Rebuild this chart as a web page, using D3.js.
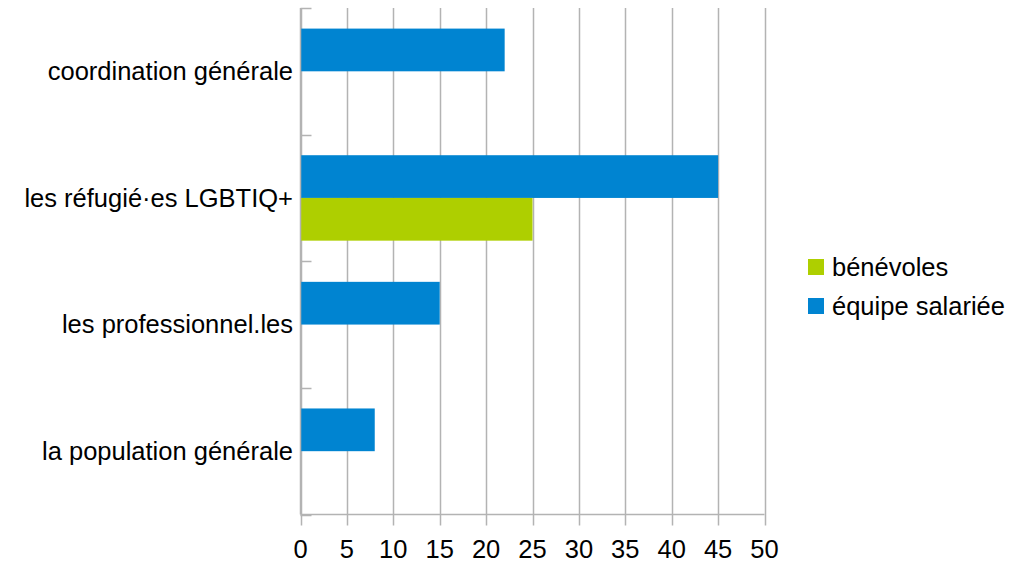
<!DOCTYPE html>
<html><head><meta charset="utf-8">
<script src="https://cdn.jsdelivr.net/npm/d3@7"></script>
<style>html,body{margin:0;padding:0;background:#fff;}svg{display:block;font-family:"Liberation Sans",Arial,sans-serif;}</style>
</head><body>
<svg id="c" width="1020" height="562"></svg>
<script>
const categories = ["coordination générale","les réfugié·es LGBTIQ+","les professionnel.les","la population générale"];
const equipeSalariee = [22,45,15,8];
const benevoles = [0,25,0,0];
const seriesNames = ["équipe salariée","bénévoles"];
const legendOrder = ["bénévoles","équipe salariée"];
const xTicks = [0,5,10,15,20,25,30,35,40,45,50];
const colors = {"équipe salariée":"#0084d1","bénévoles":"#aecf00"};

const svg = d3.select("#c");
const FS = 25.5;
const L = 300.5, R = 764.5, T = 8, B = 514.5;
const x = d3.scaleLinear().domain([0,50]).range([L,R]);
const y = d3.scaleBand().domain(categories).range([T,B]).padding(0);
const yi = d3.scaleBand().domain(seriesNames).range([0,y.bandwidth()]).paddingInner(0).paddingOuter(0.482);
const grid = "#b3b3b3";

// vertical gridlines + outward ticks
svg.append("g").selectAll("line").data(xTicks).join("line")
  .attr("x1",d=>Math.round(x(d))+0.5).attr("x2",d=>Math.round(x(d))+0.5)
  .attr("y1",T).attr("y2",B+11).attr("stroke",grid).attr("stroke-width",1.5);

// bars
const rows = categories.map((c,i)=>({cat:c, vals:[{s:"équipe salariée",v:equipeSalariee[i]},{s:"bénévoles",v:benevoles[i]}]}));
const g = svg.append("g");
rows.forEach(r=>{
  g.selectAll(null).data(r.vals).join("rect")
    .attr("x",x(0)).attr("y",d=>y(r.cat)+yi(d.s))
    .attr("width",d=>x(d.v)-x(0)).attr("height",yi.bandwidth())
    .attr("fill",d=>colors[d.s]);
});

// left axis line and inner ticks
svg.append("line").attr("x1",L).attr("x2",L).attr("y1",T).attr("y2",B).attr("stroke",grid).attr("stroke-width",1.5);
const bounds = categories.map(c=>y(c)).concat([B]);
svg.append("g").selectAll("line").data(bounds).join("line")
  .attr("x1",L).attr("x2",L+11).attr("y1",d=>Math.round(d)+0.5).attr("y2",d=>Math.round(d)+0.5)
  .attr("stroke",grid).attr("stroke-width",1.5);
// bottom axis line
svg.append("line").attr("x1",L).attr("x2",R).attr("y1",B).attr("y2",B).attr("stroke",grid).attr("stroke-width",1.5);

// x tick labels
svg.append("g").selectAll("text").data(xTicks).join("text")
  .attr("x",d=>x(d)).attr("y",558).attr("text-anchor","middle")
  .attr("font-size",FS).attr("fill","#000").text(d=>d);

// category labels
svg.append("g").selectAll("text").data(categories).join("text")
  .attr("x",293).attr("y",d=>y(d)+y.bandwidth()/2).attr("dy","0.35em")
  .attr("text-anchor","end").attr("font-size",FS).attr("fill","#000").text(d=>d);

// legend
const lg = svg.append("g");
legendOrder.forEach((s,i)=>{
  const yy = 259 + i*39;
  lg.append("rect").attr("x",808).attr("y",yy).attr("width",16).attr("height",16).attr("fill",colors[s]);
  lg.append("text").attr("x",832).attr("y",yy+17).attr("font-size",FS).attr("fill","#000").text(s);
});
</script>
</body></html>
